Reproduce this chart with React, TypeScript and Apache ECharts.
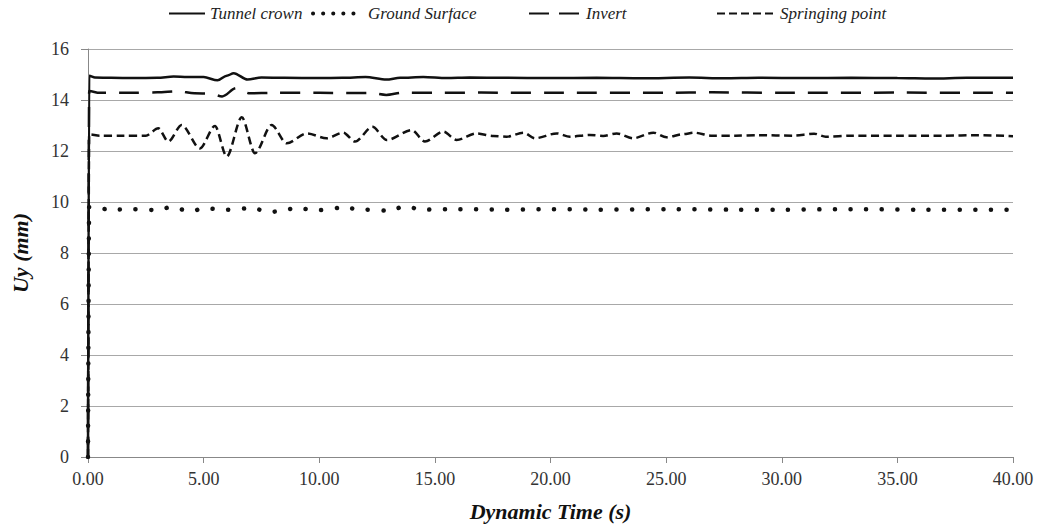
import React, { useEffect, useRef } from "react";
import * as echarts from "echarts";

const crownT = [0, 0.05, 0.3, 1, 2, 3, 3.7, 4.3, 5, 5.6, 6.0, 6.3, 6.9, 7.5, 8.5, 10, 11, 12, 12.9, 13.5, 14.5, 15.5, 16.5, 18, 20, 22, 24, 26, 27.5, 29, 31, 33, 35, 36.5, 38, 40];
const crownV = [0, 14.95, 14.88, 14.87, 14.86, 14.87, 14.92, 14.9, 14.9, 14.77, 14.95, 15.05, 14.8, 14.88, 14.87, 14.86, 14.87, 14.9, 14.8, 14.87, 14.9, 14.86, 14.88, 14.87, 14.86, 14.87, 14.85, 14.88, 14.85, 14.87, 14.86, 14.87, 14.86, 14.84, 14.87, 14.87];

const groundT = [0, 0.05, 1, 2, 3, 3.5, 4.5, 5, 6, 7, 8, 9, 10, 11, 12, 13, 13.7, 14.5, 16, 18, 20, 22, 25, 28, 30, 33, 36, 40];
const groundV = [0, 9.8, 9.7, 9.72, 9.68, 9.78, 9.65, 9.75, 9.7, 9.75, 9.62, 9.75, 9.68, 9.78, 9.7, 9.66, 9.82, 9.7, 9.72, 9.7, 9.72, 9.7, 9.72, 9.7, 9.7, 9.72, 9.7, 9.7];

const invertT = [0, 0.05, 0.5, 2, 3, 3.9, 4.6, 5.3, 5.8, 6.4, 7, 8, 10, 11.5, 12.2, 12.9, 13.6, 15, 17, 20, 25, 27, 30, 35, 40];
const invertV = [0, 14.35, 14.28, 14.28, 14.3, 14.34, 14.26, 14.25, 14.14, 14.46, 14.26, 14.28, 14.28, 14.27, 14.28, 14.2, 14.29, 14.28, 14.29, 14.28, 14.28, 14.3, 14.28, 14.29, 14.28];

const springT = [0, 0.05, 0.5, 1.5, 2.5, 3.04, 3.47, 4.05, 4.84, 5.49, 6.0, 6.65, 7.22, 7.94, 8.59, 9.46, 10.32, 11.04, 11.55, 12.3, 12.92, 14.0, 14.57, 15.37, 15.94, 16.8, 17.53, 18.1, 18.83, 19.33, 20.27, 20.84, 21.7, 22.28, 22.86, 23.58, 24.45, 25.02, 25.74, 26.2, 27, 28, 29, 30.5, 31.4, 31.9, 33, 35, 37, 38.5, 40];
const springV = [0, 12.65, 12.6, 12.6, 12.6, 12.89, 12.37, 13.02, 12.1, 12.98, 11.78, 13.32, 11.91, 13.02, 12.3, 12.69, 12.5, 12.72, 12.37, 12.95, 12.43, 12.82, 12.37, 12.76, 12.43, 12.69, 12.59, 12.56, 12.72, 12.5, 12.69, 12.56, 12.63, 12.59, 12.69, 12.5, 12.72, 12.54, 12.66, 12.72, 12.6, 12.6, 12.62, 12.6, 12.68, 12.56, 12.6, 12.6, 12.6, 12.62, 12.58];

const seriesNames = ["Tunnel crown", "Ground Surface", "Invert", "Springing point"];
const xTicks = { min: 0, max: 40, interval: 5 };
const yTicks = { min: 0, max: 16, interval: 2 };

const pairs = (t: number[], v: number[]) => t.map((x, i) => [x, v[i]]);

export default function App() {
  const ref = useRef<HTMLDivElement>(null);
  useEffect(() => {
    if (!ref.current) return;
    const chart = echarts.init(ref.current, null, { renderer: "svg" });
    const font = "Liberation Serif";
    const legendText = { fontFamily: font, fontStyle: "italic", fontSize: 17, color: "#222" };
    const mkLegend = (name: string, left: number, w: number, lineStyle: any) => ({
      data: [name],
      left,
      top: 5,
      itemWidth: w,
      itemHeight: 12,
      itemGap: 4,
      textStyle: legendText,
      itemStyle: { opacity: 0 },
      lineStyle,
      padding: 0,
    });
    chart.setOption({
      animation: false,
      backgroundColor: "#fff",
      textStyle: { fontFamily: font },
      legend: [
        mkLegend(seriesNames[0], 168, 36, { width: 2 }),
        mkLegend(seriesNames[1], 311, 50, { width: 4, type: [0.1, 10], cap: "round" }),
        mkLegend(seriesNames[2], 528, 52, { width: 2, type: [20, 10] }),
        mkLegend(seriesNames[3], 716, 58, { width: 2, type: [8, 4] }),
      ],
      grid: { left: 88, right: 29, top: 49, bottom: 75, containLabel: false },
      xAxis: {
        type: "value",
        min: xTicks.min,
        max: xTicks.max,
        interval: xTicks.interval,
        name: "Dynamic Time (s)",
        nameLocation: "middle",
        nameGap: 43,
        nameTextStyle: { fontFamily: font, fontStyle: "italic", fontWeight: "bold", fontSize: 22, color: "#111" },
        axisLine: { show: true, lineStyle: { color: "#888", width: 1 } },
        axisTick: { show: true, length: 6, lineStyle: { color: "#888" } },
        axisLabel: { formatter: (v: number) => v.toFixed(2), fontFamily: font, fontSize: 18, color: "#333", margin: 13 },
        splitLine: { show: false },
      },
      yAxis: {
        type: "value",
        min: yTicks.min,
        max: yTicks.max,
        interval: yTicks.interval,
        name: "Uy (mm)",
        nameLocation: "middle",
        nameGap: 57,
        nameRotate: 90,
        nameTextStyle: { fontFamily: font, fontStyle: "italic", fontWeight: "bold", fontSize: 22, color: "#111" },
        axisLine: { show: true, lineStyle: { color: "#888", width: 1 } },
        axisTick: { show: true, length: 7, lineStyle: { color: "#888" } },
        axisLabel: { fontFamily: font, fontSize: 18, color: "#333", margin: 19 },
        splitLine: { show: true, lineStyle: { color: "#a8a8a8", width: 1 } },
      },
      series: [
        {
          name: seriesNames[0],
          type: "line",
          data: pairs(crownT, crownV),
          symbol: "none",
          smooth: 0.3,
          smoothMonotone: "x",
          lineStyle: { color: "#111", width: 2.5, type: "solid" },
          itemStyle: { color: "#111" },
          z: 4,
        },
        {
          name: seriesNames[1],
          type: "line",
          data: pairs(groundT, groundV),
          symbol: "none",
          smooth: 0.3,
          smoothMonotone: "x",
          lineStyle: { color: "#111", width: 4.5, type: [0.1, 15.5], cap: "round" },
          itemStyle: { color: "#111" },
          z: 3,
        },
        {
          name: seriesNames[2],
          type: "line",
          data: pairs(invertT, invertV),
          symbol: "none",
          smooth: 0.3,
          smoothMonotone: "x",
          lineStyle: { color: "#111", width: 2.5, type: [20, 13] },
          itemStyle: { color: "#111" },
          z: 3,
        },
        {
          name: seriesNames[3],
          type: "line",
          data: pairs(springT, springV),
          symbol: "none",
          smooth: 0.3,
          smoothMonotone: "x",
          lineStyle: { color: "#111", width: 2.5, type: [8, 4.5] },
          itemStyle: { color: "#111" },
          z: 3,
        },
      ],
    });
    return () => chart.dispose();
  }, []);
  return <div ref={ref} style={{ width: 1042, height: 532, margin: -8 }} />;
}
